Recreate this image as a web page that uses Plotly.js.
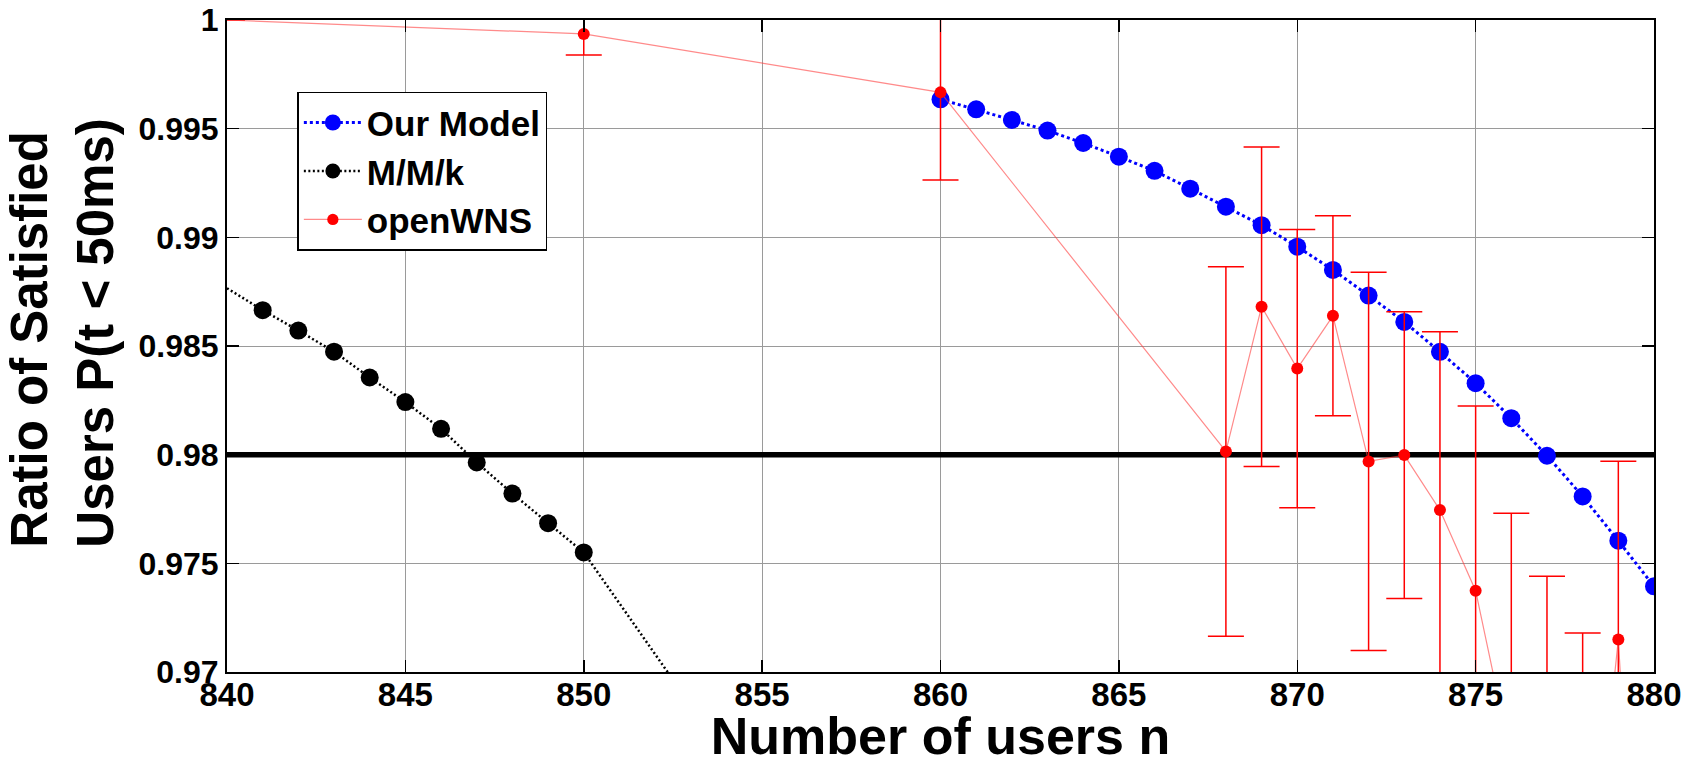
<!DOCTYPE html>
<html>
<head>
<meta charset="utf-8">
<script src="https://cdn.plot.ly/plotly-3.0.1.min.js"></script>
<style>html,body{margin:0;padding:0;background:#fff;}#chart{width:1694px;height:765px;}</style>
</head>
<body>
<div id="chart"></div>
<script>
// ---- data ----
const modelN = [860,861,862,863,864,865,866,867,868,869,870,871,872,873,874,875,876,877,878,879,880];
const modelP = [0.99635,0.99589,0.99540,0.99491,0.99434,0.99371,0.99306,0.99224,0.99141,0.99056,0.98957,0.98850,0.98732,0.98611,0.98473,0.98329,0.98168,0.97995,0.97808,0.97604,0.97394];

const mmkN = [840,841,842,843,844,845,846,847,848,849,850,855];
const mmkP = [0.98766,0.98665,0.98571,0.98474,0.98355,0.98242,0.98119,0.97964,0.97821,0.97685,0.97550,0.9638];
const mmkMarked = [false,true,true,true,true,true,true,true,true,true,true,false];

const wnsN = [840,850,860,868,869,870,871,872,873,874,875,876,877,878,879,880];
const wnsP = [1.0,0.99936,0.99667,0.98015,0.98681,0.98396,0.98639,0.97969,0.97998,0.97745,0.97374,0.9660,0.9630,0.9557,0.97150,0.9430];
const wnsErr = [0,0.00097,0.00403,0.0085,0.00735,0.0064,0.0046,0.0087,0.0066,0.0082,0.0085,0.0113,0.0114,0.0161,0.0082,0.008];
const wnsMarked = [false,true,true,true,true,true,true,true,true,true,true,true,true,true,true,true];

const threshold = 0.98;
const xRange = [840, 880];
const yRange = [0.97, 1.0];
const xTicks = [840,845,850,855,860,865,870,875,880];
const yTicks = [0.97,0.975,0.98,0.985,0.99,0.995,1];
const yTickText = ["0.97","0.975","0.98","0.985","0.99","0.995","1"];

const FONT = "Liberation Sans, Arial, Helvetica, sans-serif";

const traces = [
  {
    x: xRange, y: [threshold, threshold],
    mode: 'lines', line: {color: '#000', width: 5.5},
    showlegend: false, hoverinfo: 'skip'
  },
  {
    name: 'M/M/k', legendrank: 2,
    x: mmkN, y: mmkP, mode: 'lines+markers',
    line: {color: '#000', width: 2.5, dash: '2px,2.5px'},
    marker: {color: '#000', opacity: 1, line: {width: 0}, size: mmkMarked.map(m => m ? 18 : 0)}
  },
  {
    name: 'Our Model', legendrank: 1,
    x: modelN, y: modelP, mode: 'lines+markers',
    line: {color: '#0000ff', width: 3, dash: 'dot'},
    marker: {color: '#0000ff', opacity: 1, line: {width: 0}, size: 18}
  },
  {
    name: 'openWNS', legendrank: 3,
    x: wnsN, y: wnsP, mode: 'lines+markers',
    line: {color: 'rgba(255,60,60,0.6)', width: 1.2},
    marker: {color: '#ff0000', opacity: 1, line: {width: 0}, size: wnsMarked.map(m => m ? 12 : 0)},
    error_y: {type: 'data', array: wnsErr, symmetric: true, visible: true, color: '#ff0000', thickness: 1.5, width: 18}
  }
];

const layout = {
  width: 1694, height: 765,
  margin: {l: 227, r: 40, t: 20, b: 93},
  paper_bgcolor: '#fff', plot_bgcolor: '#fff',
  font: {family: FONT, color: '#000', weight: 'bold'},
  showlegend: true,
  legend: {
    x: 0.0493, y: 0.890, xanchor: 'left', yanchor: 'top',
    bgcolor: '#fff', bordercolor: '#000', borderwidth: 1.5,
    font: {family: FONT, size: 35, color: '#000', weight: 'bold'},
    itemwidth: 58, tracegroupgap: 0
  },
  xaxis: {
    range: xRange, tickvals: xTicks, ticktext: xTicks.map(String),
    showgrid: true, gridcolor: '#9a9a9a', gridwidth: 1,
    showline: true, linecolor: '#000', linewidth: 2, mirror: 'ticks',
    ticks: 'inside', ticklen: 12, tickwidth: 1.5, tickcolor: '#000',
    ticklabelstandoff: -8,
    tickfont: {family: FONT, size: 33, color: '#000', weight: 'bold'},
    zeroline: false,
    title: {text: 'Number of users n', standoff: 0, font: {family: FONT, size: 52, color: '#000', weight: 'bold'}}
  },
  yaxis: {
    range: yRange, tickvals: yTicks, ticktext: yTickText,
    showgrid: true, gridcolor: '#9a9a9a', gridwidth: 1,
    showline: true, linecolor: '#000', linewidth: 2, mirror: 'ticks',
    ticks: 'inside', ticklen: 12, tickwidth: 1.5, tickcolor: '#000',
    tickfont: {family: FONT, size: 32, color: '#000', weight: 'bold'},
    zeroline: false
  },
  annotations: [{
    text: 'Ratio of Satisfied<br>Users P(t &lt; 50ms)',
    xref: 'paper', yref: 'paper', x: -0.1154, y: 0.5194,
    xanchor: 'center', yanchor: 'middle', textangle: -90, align: 'left',
    showarrow: false,
    font: {family: FONT, size: 51, color: '#000', weight: 'bold'}
  }]
};

Plotly.newPlot('chart', traces, layout, {displayModeBar: false, staticPlot: true});
</script>
</body>
</html>
